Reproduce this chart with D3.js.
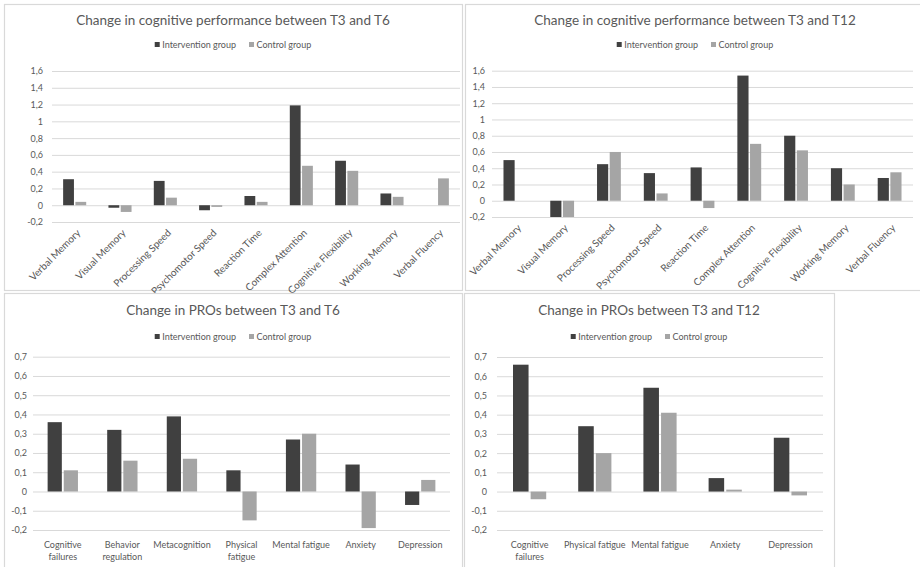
<!DOCTYPE html>
<html>
<head>
<meta charset="utf-8">
<script src="https://d3js.org/d3.v7.min.js"></script>
<style>
  body { margin: 0; background: #fff; }
  text { font-family: Lato, "Open Sans", sans-serif; fill: #595959; }
</style>
</head>
<body>
<svg id="chart" width="920" height="567"></svg>
<script>
// series
var seriesNames = ["Intervention group", "Control group"];
var seriesColors = ["#404040", "#a5a5a5"];

// cognitive performance
var cogCategories = ["Verbal Memory", "Visual Memory", "Processing Speed", "Psychomotor Speed",
    "Reaction Time", "Complex Attention", "Cognitive Flexibility", "Working Memory", "Verbal Fluency"];
var cogT6Intervention = [0.31, -0.03, 0.29, -0.06, 0.11, 1.19, 0.53, 0.14, 0];
var cogT6Control      = [0.04, -0.08, 0.09, -0.02, 0.04, 0.47, 0.41, 0.10, 0.32];
var cogT12Intervention = [0.50, -0.20, 0.45, 0.34, 0.41, 1.54, 0.80, 0.40, 0.28];
var cogT12Control      = [0, -0.20, 0.60, 0.09, -0.09, 0.70, 0.62, 0.20, 0.35];
var cogTicks = [-0.2, 0, 0.2, 0.4, 0.6, 0.8, 1, 1.2, 1.4, 1.6];

// patient reported outcomes
var proT6Categories = ["Cognitive\nfailures", "Behavior\nregulation", "Metacognition", "Physical\nfatigue",
    "Mental fatigue", "Anxiety", "Depression"];
var proT6Intervention = [0.36, 0.32, 0.39, 0.11, 0.27, 0.14, -0.07];
var proT6Control      = [0.11, 0.16, 0.17, -0.15, 0.30, -0.19, 0.06];
var proT12Categories = ["Cognitive\nfailures", "Physical fatigue", "Mental fatigue", "Anxiety", "Depression"];
var proT12Intervention = [0.66, 0.34, 0.54, 0.07, 0.28];
var proT12Control      = [-0.04, 0.20, 0.41, 0.01, -0.02];
var proTicks = [-0.2, -0.1, 0, 0.1, 0.2, 0.3, 0.4, 0.5, 0.6, 0.7];

var fmt = function (v) { return String(+v.toFixed(2)).replace(".", ","); };

var panels = [
    { title: "Change in cognitive performance between T3 and T6", cats: cogCategories,
      vals: [cogT6Intervention, cogT6Control], ticks: cogTicks, rotate: true,
      box: { x: 4, y: 4, w: 458, h: 286 }, plot: { l: 52, r: 460, t: 71, b: 222, lab: 43 },
      titleY: 25, legendY: 45 },
    { title: "Change in cognitive performance between T3 and T12", cats: cogCategories,
      vals: [cogT12Intervention, cogT12Control], ticks: cogTicks, rotate: true,
      box: { x: 465, y: 4, w: 460, h: 286 }, plot: { l: 492, r: 913, t: 70.7, b: 217, lab: 485 },
      titleY: 25, legendY: 45 },
    { title: "Change in PROs between T3 and T6", cats: proT6Categories,
      vals: [proT6Intervention, proT6Control], ticks: proTicks, rotate: false,
      box: { x: 4, y: 293, w: 458, h: 276 }, plot: { l: 33, r: 450, t: 356.7, b: 530, lab: 27 },
      titleY: 315, legendY: 337 },
    { title: "Change in PROs between T3 and T12", cats: proT12Categories,
      vals: [proT12Intervention, proT12Control], ticks: proTicks, rotate: false,
      box: { x: 464, y: 293, w: 370, h: 276 }, plot: { l: 497, r: 823, t: 357, b: 530, lab: 487 },
      titleY: 315, legendY: 337 }
];

var svg = d3.select("#chart");
svg.append("rect").attr("width", 920).attr("height", 567).attr("fill", "#fff");

panels.forEach(function (p) {
    var g = svg.append("g");
    var pl = p.plot;

    // panel frame
    g.append("rect")
        .attr("x", p.box.x + 0.5).attr("y", p.box.y + 0.5)
        .attr("width", p.box.w).attr("height", p.box.h)
        .attr("fill", "#fff").attr("stroke", "#d9d9d9").attr("stroke-width", 1.2);

    var cx = p.box.x + p.box.w / 2;

    g.append("text")
        .attr("x", cx).attr("y", p.titleY)
        .attr("text-anchor", "middle")
        .style("font-size", "13.5px")
        .text(p.title);

    var y = d3.scaleLinear()
        .domain([p.ticks[0], p.ticks[p.ticks.length - 1]])
        .range([pl.b, pl.t]);

    var x0 = d3.scaleBand()
        .domain(p.cats)
        .range([pl.l, pl.r])
        .paddingInner(0.491)
        .paddingOuter(0.2455);

    var x1 = d3.scaleBand()
        .domain([0, 1])
        .range([0, x0.bandwidth()])
        .paddingInner(0.119);

    // gridlines + y labels
    var yAxis = g.append("g")
        .attr("transform", "translate(" + pl.l + ",0)")
        .call(d3.axisLeft(y)
            .tickValues(p.ticks)
            .tickSize(-(pl.r - pl.l))
            .tickPadding(pl.l - pl.lab)
            .tickFormat(fmt));
    yAxis.select(".domain").remove();
    yAxis.selectAll("line").attr("stroke", "#d9d9d9");
    yAxis.selectAll("text").style("font-size", "9px").style("fill", "#595959")
        .attr("font-family", null);

    // bars
    p.vals.forEach(function (series, si) {
        g.append("g").selectAll("rect")
            .data(series.map(function (v, i) { return { cat: p.cats[i], v: v }; }))
            .enter().append("rect")
            .attr("x", function (d) { return x0(d.cat) + x1(si); })
            .attr("width", x1.bandwidth())
            .attr("y", function (d) { return Math.min(y(d.v), y(0)); })
            .attr("height", function (d) { return Math.abs(y(d.v) - y(0)); })
            .attr("fill", seriesColors[si]);
    });

    // category labels
    var xAxis = g.append("g")
        .attr("transform", "translate(0," + pl.b + ")")
        .call(d3.axisBottom(x0).tickSize(0).tickFormat(""));
    xAxis.select(".domain").remove();

    xAxis.selectAll(".tick").each(function (d) {
        var t = d3.select(this).append("text")
            .attr("fill", "#595959")
            .style("font-size", "9px");
        if (p.rotate) {
            t.attr("text-anchor", "end")
                .attr("transform", "translate(4,9) rotate(-45)")
                .attr("dy", "0.35em")
                .style("font-size", "10px")
                .text(d);
        } else {
            t.attr("text-anchor", "middle");
            d.split("\n").forEach(function (line, li) {
                t.append("tspan")
                    .attr("x", 0)
                    .attr("y", 17.5 + li * 12)
                    .text(line);
            });
        }
    });

    // legend
    var leg = g.append("g");
    var items = leg.selectAll("g").data(seriesNames).enter().append("g");
    items.append("rect")
        .attr("width", 5).attr("height", 5)
        .attr("y", -3)
        .attr("fill", function (d, i) { return seriesColors[i]; });
    items.append("text")
        .attr("x", 7.5).attr("dy", "0.33em")
        .style("font-size", "9px")
        .text(function (d) { return d; });
    var offs = 0;
    items.each(function () {
        var w = this.getBBox().width;
        d3.select(this).attr("transform", "translate(" + offs + ",0)");
        offs += w + 13;
    });
    offs -= 13;
    leg.attr("transform", "translate(" + (cx - offs / 2) + "," + p.legendY + ")");
});
</script>
</body>
</html>
